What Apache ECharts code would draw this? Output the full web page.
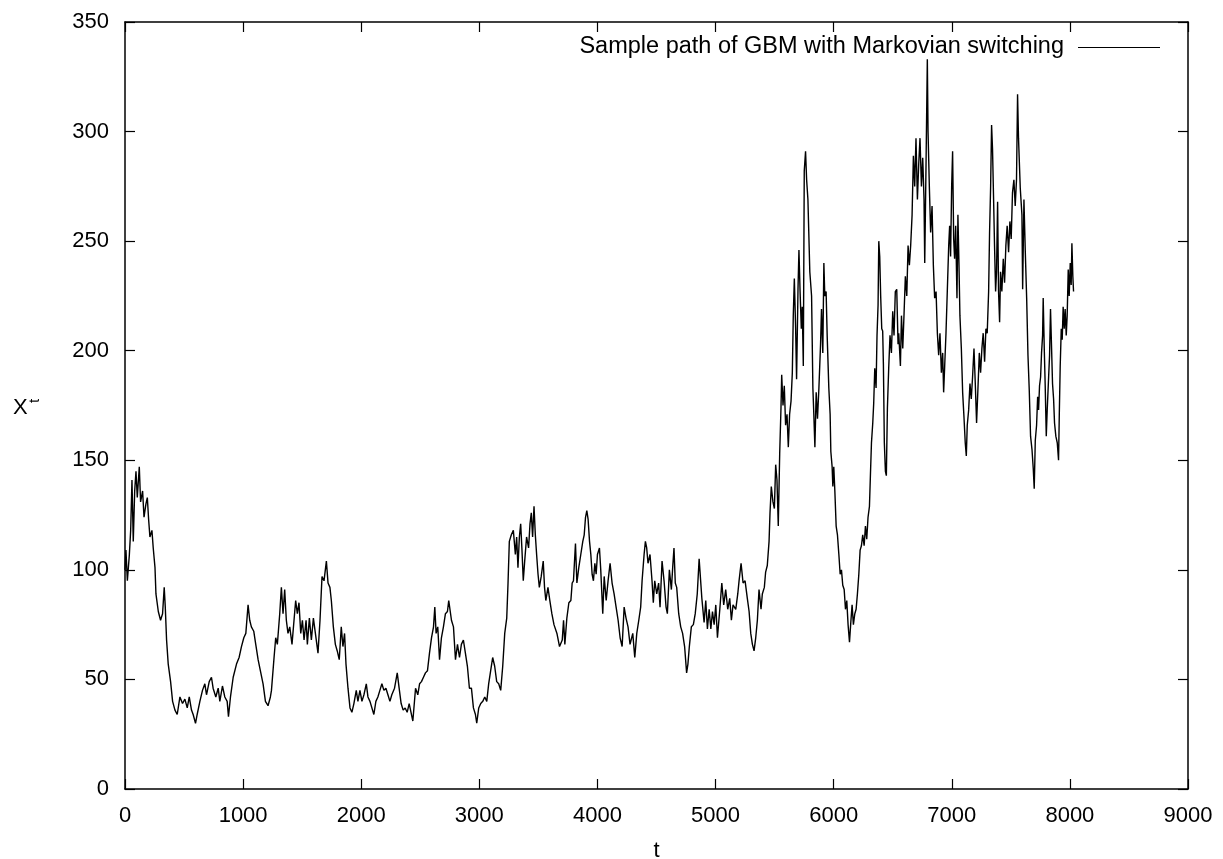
<!DOCTYPE html>
<html>
<head>
<meta charset="utf-8">
<title>Sample path of GBM with Markovian switching</title>
<script src="https://cdn.jsdelivr.net/npm/echarts@6/dist/echarts.min.js"></script>
<style>
    html, body { margin: 0; padding: 0; background: #fff; }
    #chart { width: 1223px; height: 859px; }
</style>
</head>
<body>
<div id="chart"></div>
<script>
// time points of the path
var tValues = [
    0, 8, 20, 37, 48, 59, 70, 82, 93, 104, 121, 132, 149, 161, 177, 189, 200, 211, 228, 239,
    254, 262, 282, 301, 318, 332, 341, 352, 366, 386, 403, 423, 442, 465, 487, 507, 527, 544, 563, 577,
    597, 611, 634, 656, 676, 690, 713, 732, 746, 769, 789, 803, 825, 845, 865, 876, 893, 916, 944, 966,
    986, 1006, 1023, 1042, 1056, 1070, 1090, 1107, 1127, 1146, 1169, 1189, 1211, 1231,
    1240, 1262, 1276, 1290, 1310, 1324, 1338, 1352, 1366, 1380, 1395, 1414, 1431, 1445, 1459, 1473, 1488, 1502, 1516, 1533,
    1544, 1561, 1578, 1595, 1612, 1634, 1651, 1668, 1685, 1705, 1719, 1735, 1747, 1764, 1781, 1797, 1814, 1831, 1845, 1859,
    1871, 1888, 1905, 1921, 1938, 1958, 1972, 1989, 2006, 2023, 2043, 2057, 2074, 2090, 2107, 2124, 2141, 2158, 2175, 2192,
    2209, 2226, 2243, 2259, 2282, 2305, 2321, 2338, 2355, 2372, 2389, 2406,
    2437, 2460, 2479, 2494, 2510, 2527, 2544, 2561, 2578, 2595, 2612, 2623, 2634, 2648, 2663, 2679, 2696, 2713, 2730, 2741,
    2753, 2764, 2781, 2798, 2815, 2832, 2848, 2865, 2882, 2899, 2916, 2933, 2950, 2967, 2978, 2995, 3012, 3029, 3046, 3063,
    3079, 3096, 3113, 3130, 3147, 3164, 3181, 3198, 3215, 3232, 3243, 3254, 3271, 3288, 3305, 3316, 3327, 3339, 3350, 3361,
    3372, 3384, 3400, 3417, 3429, 3440, 3451, 3463, 3474, 3485, 3497, 3508, 3524, 3541, 3552, 3563, 3581, 3597, 3614, 3632,
    3657, 3679, 3702, 3713, 3724, 3741, 3758, 3775, 3786, 3797, 3814, 3826, 3842, 3859, 3876, 3888, 3899, 3910, 3921, 3933,
    3944, 3955, 3966, 3978, 3989, 4000, 4017, 4028, 4045, 4057, 4074, 4090, 4107, 4124, 4141, 4158, 4175, 4192, 4209, 4226,
    4242, 4259, 4276, 4299, 4316, 4333, 4350, 4366, 4378, 4395, 4406, 4417, 4428, 4445, 4462, 4473, 4485, 4502, 4518, 4530,
    4547, 4564, 4581, 4592, 4609, 4626, 4637, 4648, 4659, 4671, 4688, 4705, 4721, 4738, 4755, 4766, 4778, 4795, 4812, 4828, 4845,
    4861, 4884, 4903, 4917, 4931, 4946, 4960, 4974, 4988, 5002, 5016, 5036, 5053, 5069, 5086, 5103, 5120, 5134, 5148, 5171,
    5188, 5199, 5216, 5233, 5250, 5269, 5284, 5298, 5312, 5326, 5340, 5354, 5368, 5385, 5396, 5413, 5424, 5438, 5453, 5461,
    5472, 5486, 5498, 5509, 5520, 5531, 5543, 5554, 5560, 5571, 5582, 5593, 5605, 5616, 5627, 5639, 5650, 5658, 5667, 5678,
    5686, 5698, 5706, 5715, 5726, 5734, 5743, 5751, 5762, 5771, 5782,
    5798, 5813, 5824, 5832, 5841, 5852, 5863, 5875, 5889, 5897, 5908, 5917, 5925, 5936, 5945, 5959, 5970, 5976, 5987, 5993,
    6001, 6010, 6021, 6032, 6044, 6055, 6066, 6077, 6089, 6100, 6111, 6122, 6134, 6145, 6156, 6167, 6179, 6190, 6201, 6213,
    6224, 6235, 6246, 6258, 6269, 6280, 6291, 6303, 6311, 6320, 6331, 6339, 6348, 6359, 6367, 6376, 6382, 6390, 6398, 6407,
    6415, 6421, 6429, 6438, 6446, 6455, 6466, 6477, 6489, 6500, 6511, 6522, 6534, 6545,
    6551, 6565, 6574, 6585, 6596, 6607, 6619, 6630, 6641, 6652, 6664, 6675, 6686, 6697, 6709, 6720, 6731, 6743, 6754, 6765,
    6771, 6782, 6793, 6799, 6810, 6821, 6833, 6844, 6855, 6867, 6878, 6889, 6900, 6912, 6923, 6931, 6940, 6951, 6962, 6974,
    6982, 6990, 6999, 7007, 7016, 7024, 7033, 7044, 7052, 7061, 7069, 7081, 7092, 7103, 7114, 7123, 7131, 7143, 7154, 7165,
    7176, 7188, 7199, 7210, 7221, 7233, 7244, 7255, 7266, 7278, 7289, 7300, 7312, 7320, 7329, 7337, 7345, 7354, 7362, 7371,
    7379, 7388, 7396, 7405, 7413, 7424, 7436, 7447, 7458, 7469, 7481, 7492, 7503, 7514, 7526, 7537, 7548, 7557, 7565,
    7580, 7594, 7600, 7611, 7622, 7634, 7645, 7656, 7667, 7679, 7690, 7698, 7707, 7718, 7727, 7735, 7743, 7752, 7760, 7769,
    7774, 7783, 7791, 7800, 7808, 7820, 7828, 7836, 7845, 7853, 7862, 7870, 7881, 7893, 7904, 7910, 7918, 7927, 7935, 7943,
    7952, 7960, 7969, 7977, 7986, 7994, 8003, 8011, 8017, 8025, 8031
];

// X_t at each of those times
var xValues = [
    100, 109, 95, 107, 118, 141, 113, 136, 145, 133, 147, 131, 136, 124, 130, 133, 123, 115, 118, 110,
    101, 89, 81, 77, 80, 92, 83, 68, 57, 49, 40, 36, 34, 42, 39, 41, 37, 42, 36, 34,
    30, 34, 40, 45, 48, 43, 49, 51, 46, 42, 46, 40, 47, 42, 40, 33, 42, 51, 57, 60,
    65, 69, 71, 84, 77, 74, 72, 66, 59, 54, 48, 40, 38, 42,
    45, 60, 69, 66, 80, 92, 80, 91, 77, 71, 74, 66, 77, 86, 80, 85, 71, 77, 68, 77,
    66, 78, 68, 78, 71, 62, 77, 97, 95, 104, 94, 92, 86, 74, 66, 63, 59, 74, 65, 71,
    57, 46, 37, 35, 39, 45, 40, 45, 40, 43, 48, 42, 40, 40, 34, 40, 42, 45, 48, 45,
    46, 43, 40, 43, 46, 53, 46, 39, 36, 37, 35, 39,
    31, 46, 43, 48, 49, 51, 53, 54, 62, 69, 74, 83, 71, 74, 59, 69, 74, 80, 81, 86,
    86, 77, 74, 59, 66, 60, 66, 68, 62, 56, 46, 46, 37, 34, 30, 37, 39, 40, 42, 40,
    48, 54, 60, 56, 49, 48, 45, 56, 71, 78, 94, 113, 116, 118, 107, 115, 101, 115, 121, 109,
    95, 104, 115, 110, 121, 126, 115, 129, 116, 107, 98, 92, 97, 104, 92, 86, 92, 86, 80, 75,
    71, 65, 68, 77, 66, 78, 85, 86, 94, 95, 112, 94, 101, 107, 113, 116, 124, 127, 123, 113,
    107, 98, 95, 103, 98, 107, 110, 100, 80, 97, 86, 95, 103, 94, 89, 83, 77, 69, 65, 83,
    78, 74, 66, 71, 60, 71, 77, 83, 95, 107, 113, 110, 103, 107, 95, 85, 95, 89, 94, 83,
    104, 95, 83, 80, 100, 91, 101, 110, 94, 92, 80, 74, 71, 65, 53, 57, 65, 74, 75, 80, 89,
    105, 87, 76, 86, 73, 82, 73, 81, 75, 84, 69, 82, 94, 84, 91, 82, 87, 77, 84, 82,
    89, 95, 103, 94, 95, 87, 81, 71, 66, 63, 69, 77, 91, 82, 89, 92, 99, 102, 113, 126,
    138, 131, 128, 148, 141, 120, 153, 174, 189, 175, 184, 166, 171, 156, 171, 177, 190, 216, 233, 210,
    187, 228, 246, 228, 210, 220, 193, 282, 291, 278, 269,
    236, 225, 183, 171, 156, 181, 169, 183, 203, 219, 199, 240, 225, 227, 207, 183, 171, 154, 147, 138,
    147, 136, 120, 116, 107, 98, 100, 93, 91, 82, 86, 75, 67, 76, 84, 75, 80, 82, 89, 98,
    109, 111, 116, 111, 120, 114, 124, 129, 143, 158, 167, 176, 192, 183, 207, 221, 250, 243, 225, 210,
    209, 194, 158, 145, 143, 174, 192, 207, 199, 218, 207, 227, 228, 203,
    208, 193, 216, 201, 217, 234, 225, 248, 239, 248, 262, 289, 275, 297, 269, 285, 297, 275, 288, 269,
    240, 285, 333, 300, 275, 254, 266, 239, 224, 227, 208, 198, 208, 190, 199, 181, 193, 208, 227, 248,
    257, 243, 275, 291, 251, 242, 257, 224, 262, 239, 216, 201, 181, 170, 158, 152, 166, 173, 185, 178,
    188, 201, 185, 167, 182, 199, 190, 201, 208, 195, 210, 208, 227, 254, 275, 303, 292, 269, 248, 227,
    236, 268, 227, 213, 236, 227, 242, 231, 248, 257, 245, 259, 251, 272, 278, 266, 278, 317, 297,
    274, 262, 228, 269, 246, 224, 198, 182, 161, 155, 146, 137, 159, 166, 179, 173, 184, 188, 199, 207,
    224, 201, 184, 161, 173, 188, 198, 219, 201, 185, 178, 167, 161, 158, 150, 170, 193, 210, 205, 220,
    210, 219, 207, 216, 237, 225, 240, 230, 249, 234, 227
];

var xTicks = { min: 0, max: 9000, step: 1000 };
var yTicks = { min: 0, max: 350, step: 50 };
var legendText = 'Sample path of GBM with Markovian switching';

var font = "'Liberation Sans', Arial, sans-serif";

// pair up times and values for the value x axis
var pathData = tValues.map(function (t, i) {
    return [t, xValues[i]];
});

var chart = echarts.init(document.getElementById('chart'));

// gnuplot style frame: ticks inward, mirrored on top/right
function frameAxis(pos, ticks, showLabel) {
    return {
        type: 'value',
        position: pos,
        min: ticks.min,
        max: ticks.max,
        interval: ticks.step,
        axisLine: { show: true, onZero: false, lineStyle: { color: '#000', width: 1.5 } },
        axisTick: { show: true, inside: true, length: 10, lineStyle: { color: '#000', width: 1.2 } },
        axisLabel: {
            show: showLabel,
            color: '#000',
            fontSize: 22,
            fontFamily: font,
            margin: 16,
            formatter: function (v) { return String(v); }  // no thousands separator
        },
        splitLine: { show: false }
    };
}

var xBottom = frameAxis('bottom', xTicks, true);
xBottom.axisLabel.margin = 16;
xBottom.name = 't';
xBottom.nameLocation = 'middle';
xBottom.nameGap = 51;
xBottom.nameTextStyle = { color: '#000', fontSize: 22, fontFamily: font };

chart.setOption({
    animation: false,
    backgroundColor: '#fff',
    // fixed plot box, don't let labels push it around
    grid: { left: 125, top: 22, width: 1063, height: 767, containLabel: false, outerBoundsMode: 'none' },
    xAxis: [xBottom, frameAxis('top', xTicks, false)],
    yAxis: [frameAxis('left', yTicks, true), frameAxis('right', yTicks, false)],
    series: [{
        name: legendText,
        type: 'line',
        xAxisIndex: 0,
        yAxisIndex: 0,
        data: pathData,
        showSymbol: false,
        symbol: 'none',
        lineStyle: { color: '#000', width: 1.4 }
    }],
    // legend and y-axis title drawn by hand, gnuplot style
    graphic: [
        {
            type: 'text',
            right: 1223 - 1064,
            top: 35,
            style: { text: legendText, fill: '#000', font: '23.5px ' + font, textAlign: 'right' }
        },
        {
            type: 'line',
            shape: { x1: 1078, y1: 47.5, x2: 1160, y2: 47.5 },
            style: { stroke: '#000', lineWidth: 1.2 }
        },
        {
            type: 'text',
            left: 13,
            top: 397,
            style: { text: 'X', fill: '#000', font: '22px ' + font }
        },
        {
            type: 'text',
            x: 27,
            y: 403,
            rotation: Math.PI / 2,
            style: { text: 't', fill: '#000', font: '15px ' + font }
        }
    ]
});
</script>
</body>
</html>
